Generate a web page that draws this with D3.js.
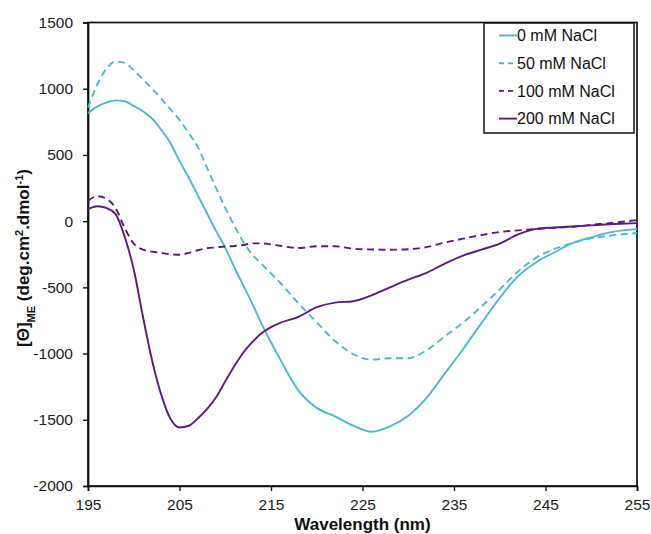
<!DOCTYPE html>
<html>
<head>
<meta charset="utf-8">
<script src="https://cdn.jsdelivr.net/npm/d3@7"></script>
<style>
  html, body { margin: 0; padding: 0; background: #fff; }
  svg { display: block; font-family: "Liberation Sans", Arial, sans-serif; }
</style>
</head>
<body>
<svg id="chart" width="651" height="534"></svg>
<script>
// CD spectra of the protein at increasing NaCl concentration
const wavelengths = [195,196,197,198,199,200,201,202,203,204,205,206,207,208,209,210,211,212,213,214,215,216,218,220,222,224,226,228,230,232,234,236,238,240,242,244,246,248,250,252,255];

const nacl0 = [817,865,895,912,905,870,830,775,690,590,455,330,195,60,-75,-200,-350,-490,-630,-780,-915,-1044,-1280,-1410,-1475,-1545,-1590,-1550,-1470,-1335,-1150,-965,-770,-580,-415,-310,-235,-165,-122,-85,-60];
const nacl50 = [858,1030,1150,1205,1195,1140,1070,1000,925,845,765,665,560,405,250,100,-35,-160,-255,-325,-395,-465,-620,-765,-905,-1005,-1045,-1035,-1035,-975,-870,-765,-645,-515,-380,-275,-210,-165,-130,-110,-90];
const nacl100 = [153,188,170,100,-50,-170,-215,-230,-240,-250,-254,-240,-220,-205,-198,-192,-188,-180,-168,-168,-175,-186,-203,-190,-190,-208,-214,-216,-212,-196,-162,-132,-105,-82,-70,-60,-50,-42,-28,-15,8];
const nacl200 = [90,112,100,55,-116,-365,-720,-1050,-1310,-1490,-1558,-1545,-1490,-1420,-1330,-1210,-1094,-990,-910,-845,-800,-768,-722,-650,-615,-605,-560,-500,-442,-390,-320,-260,-215,-170,-100,-58,-48,-40,-32,-24,-15];

const seriesNames = ["0 mM NaCl", "50 mM NaCl", "100 mM NaCl", "200 mM NaCl"];
const seriesValues = [nacl0, nacl50, nacl100, nacl200];
const seriesColors = ["#4cbaca", "#4cbaca", "#5b1a7c", "#5b1a7c"];
const seriesDashed = [false, true, true, false];

const xTicks = [195, 205, 215, 225, 235, 245, 255];
const yTicks = [1500, 1000, 500, 0, -500, -1000, -1500, -2000];

const svg = d3.select("#chart");
const plotLeft = 88, plotRight = 637, plotTop = 22.5, plotBottom = 486;

const x = d3.scaleLinear().domain([195, 255]).range([plotLeft, plotRight]);
const y = d3.scaleLinear().domain([-2000, 1500]).range([plotBottom, plotTop]);

// Plot frame
svg.append("rect")
  .attr("x", plotLeft).attr("y", plotTop)
  .attr("width", plotRight - plotLeft).attr("height", plotBottom - plotTop)
  .attr("fill", "none").attr("stroke", "#111").attr("stroke-width", 1.7);

// Axes
const xAxis = svg.append("g")
  .attr("transform", `translate(0,${plotBottom})`)
  .call(d3.axisBottom(x).tickValues(xTicks).tickSize(5).tickPadding(8).tickFormat(d3.format("d")));
const yAxis = svg.append("g")
  .attr("transform", `translate(${plotLeft},0)`)
  .call(d3.axisLeft(y).tickValues(yTicks).tickSize(5).tickPadding(10).tickFormat(d3.format("d")));

[xAxis, yAxis].forEach(g => {
  g.select(".domain").attr("stroke", "#111").attr("stroke-width", 1.7);
  g.selectAll(".tick line").attr("stroke", "#111").attr("stroke-width", 1.4);
  g.selectAll(".tick text")
    .attr("fill", "#222")
    .style("font-size", "15.5px")
    .style("font-family", "'Liberation Sans', Arial, sans-serif");
});
yAxis.selectAll(".tick text").text(d => d < 0 ? "-" + Math.abs(d) : d);

// Spectra
const line = d3.line()
  .x(d => x(d[0]))
  .y(d => y(d[1]))
  .curve(d3.curveMonotoneX);

seriesValues.forEach((vals, i) => {
  svg.append("path")
    .datum(wavelengths.map((w, k) => [w, vals[k]]))
    .attr("d", line)
    .attr("fill", "none")
    .attr("stroke", seriesColors[i])
    .attr("stroke-width", 1.9)
    .attr("stroke-dasharray", seriesDashed[i] ? "7,4.5" : null);
});

// Legend
const legend = svg.append("g");
legend.append("rect")
  .attr("x", 484).attr("y", 23).attr("width", 150).attr("height", 110)
  .attr("fill", "#fff").attr("stroke", "#111").attr("stroke-width", 1.5);
seriesNames.forEach((name, i) => {
  const cy = 35.5 + i * 27.7;
  legend.append("line")
    .attr("x1", 499).attr("x2", 517)
    .attr("y1", cy).attr("y2", cy)
    .attr("stroke", seriesColors[i]).attr("stroke-width", 1.9)
    .attr("stroke-dasharray", seriesDashed[i] ? "5,4" : null);
  legend.append("text")
    .attr("x", 517).attr("y", cy)
    .attr("dy", "0.35em")
    .attr("fill", "#111")
    .style("font-size", "16px")
    .text(name);
});

// Axis titles
svg.append("text")
  .attr("x", (plotLeft + plotRight) / 2).attr("y", 529.5)
  .attr("text-anchor", "middle")
  .attr("font-weight", "bold")
  .attr("fill", "#111")
  .style("font-size", "17px")
  .text("Wavelength (nm)");

const yTitle = svg.append("text")
  .attr("transform", "translate(29,258) rotate(-90)")
  .attr("text-anchor", "middle")
  .attr("font-weight", "bold")
  .attr("fill", "#111")
  .style("font-size", "17px");
yTitle.append("tspan").text("[Θ]");
yTitle.append("tspan").attr("baseline-shift", "sub").style("font-size", "11px").text("ME");
yTitle.append("tspan").text(" (deg.cm");
yTitle.append("tspan").attr("baseline-shift", "super").style("font-size", "11px").text("2");
yTitle.append("tspan").text(".dmol");
yTitle.append("tspan").attr("baseline-shift", "super").style("font-size", "11px").text("-1");
yTitle.append("tspan").text(")");
</script>
</body>
</html>
